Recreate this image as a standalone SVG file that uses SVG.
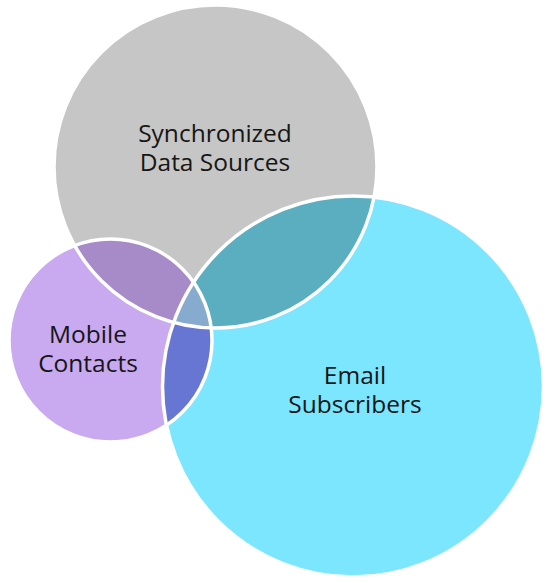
<svg xmlns="http://www.w3.org/2000/svg" width="548" height="583" viewBox="0 0 548 583">
  <style>
    .lbl { font-family: "Open Sans", "Noto Sans", "DejaVu Sans", sans-serif; font-size: 24.5px; fill: #161616; text-anchor: middle; }
    .edge { fill: none; stroke: #ffffff; stroke-width: 3.5; }
  </style>
  <defs>
    <circle id="cG" cx="215.5" cy="166.5" r="161.5"/>
    <circle id="cB" cx="353" cy="386.5" r="190.5"/>
    <circle id="cP" cx="110.5" cy="340.5" r="101.5"/>
    <clipPath id="clipG"><use href="#cG"/></clipPath>
    <clipPath id="clipB"><use href="#cB"/></clipPath>
    <clipPath id="clipP"><use href="#cP"/></clipPath>
  </defs>
  <g id="sync-data-sources">
    <use href="#cG" fill="#C6C6C6"/>
  </g>
  <g id="email-subscribers">
    <use href="#cB" fill="#7BE6FE"/>
  </g>
  <g id="mobile-contacts">
    <use href="#cP" fill="#C9A9EF"/>
  </g>
  <g id="overlaps">
    <g clip-path="url(#clipG)"><use href="#cB" fill="#5BAEC0"/></g>
    <g clip-path="url(#clipG)"><use href="#cP" fill="#A78BC9"/></g>
    <g clip-path="url(#clipB)"><use href="#cP" fill="#6776D3"/></g>
    <g clip-path="url(#clipG)"><g clip-path="url(#clipB)"><use href="#cP" fill="#87AACF"/></g></g>
  </g>
  <g id="borders">
    <use href="#cG" class="edge"/>
    <use href="#cB" class="edge"/>
    <use href="#cP" class="edge"/>
  </g>
  <g id="labels">
    <text class="lbl" x="215" y="142">Synchronized</text>
    <text class="lbl" x="215" y="171">Data Sources</text>
    <text class="lbl" x="88" y="343">Mobile</text>
    <text class="lbl" x="88" y="372">Contacts</text>
    <text class="lbl" x="355" y="384">Email</text>
    <text class="lbl" x="355" y="413">Subscribers</text>
  </g>
</svg>
